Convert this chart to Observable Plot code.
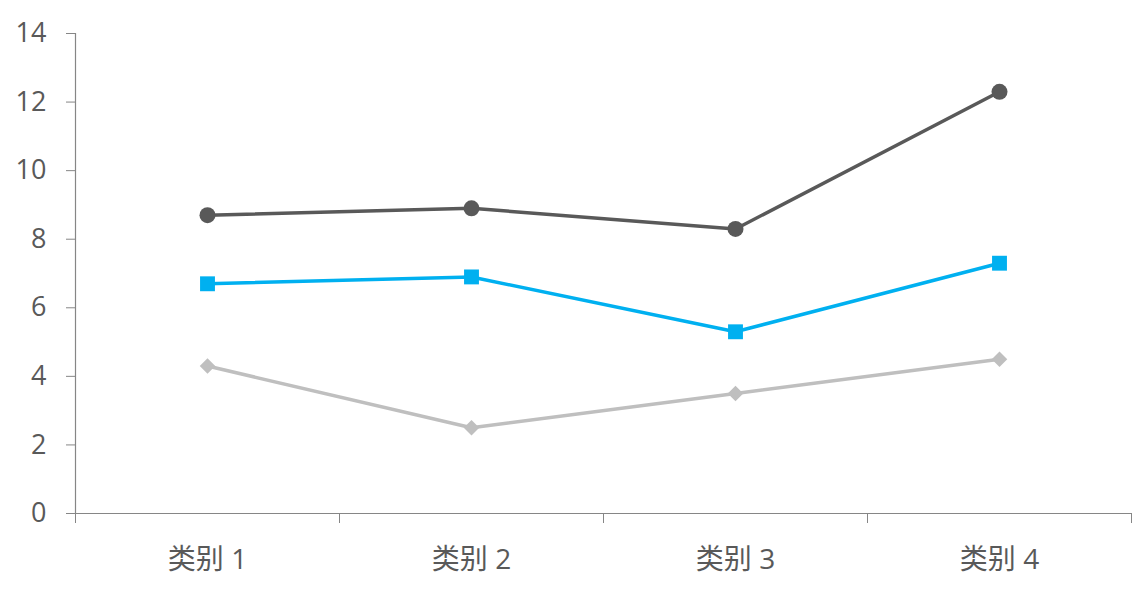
<!DOCTYPE html>
<html>
<head>
<meta charset="utf-8">
<script src="https://cdn.jsdelivr.net/npm/d3@7"></script>
<script src="https://cdn.jsdelivr.net/npm/@observablehq/plot@0.6"></script>
<style>
  html, body { margin: 0; padding: 0; background: #fff; }
  svg { display: block; }
</style>
</head>
<body>
<div id="chart"></div>
<script>
const categories = ["类别 1", "类别 2", "类别 3", "类别 4"];
const series1 = [8.7, 8.9, 8.3, 12.3];   // dark, circles
const series2 = [6.7, 6.9, 5.3, 7.3];    // blue, squares
const series3 = [4.3, 2.5, 3.5, 4.5];    // light gray, diamonds
const yTicks = [0, 2, 4, 6, 8, 10, 12, 14];

const seriesDefs = [
  {name: "系列 1", values: series1, color: "#595959", symbol: "circle", r: 8},
  {name: "系列 2", values: series2, color: "#00B0F0", symbol: "square", r: 8.4},
  {name: "系列 3", values: series3, color: "#BFBFBF", symbol: "diamond2", r: 7}
];
const rows = seriesDefs.flatMap(s => s.values.map((v, i) => ({series: s.name, i: i + 0.5, value: v})));

const axisColor = "#868686";
const textColor = "#595959";
const font = "'Open Sans', 'Noto Sans CJK SC', sans-serif";

const marks = [
  Plot.ruleY([0], {stroke: axisColor, strokeWidth: 1.2}),
  Plot.ruleX([0], {y1: 0, y2: 14, stroke: axisColor, strokeWidth: 1.2}),
  Plot.axisY({ticks: yTicks, label: null, tickSize: 9, tickPadding: 20, stroke: axisColor, strokeOpacity: 1, fill: textColor, fontSize: 27, fontFamily: font}),
  Plot.axisX({ticks: [0, 1, 2, 3, 4], label: null, tickSize: 10, tickFormat: () => "", stroke: axisColor, strokeOpacity: 1}),
  Plot.axisX({ticks: categories.map((c, i) => i + 0.5), label: null, tickSize: 0, tickPadding: 36, tickFormat: d => categories[Math.round(d - 0.5)], fill: textColor, fontSize: 28, fontFamily: font}),
];
for (const s of seriesDefs) {
  const d = rows.filter(r => r.series === s.name);
  marks.push(Plot.line(d, {x: "i", y: "value", stroke: s.color, strokeWidth: 3.5}));
  marks.push(Plot.dot(d, {x: "i", y: "value", fill: s.color, stroke: "none", symbol: s.symbol, r: s.r}));
}

const chart = Plot.plot({
  width: 1139,
  height: 605,
  marginLeft: 75,
  marginRight: 8,
  marginTop: 33,
  marginBottom: 92,
  style: {background: "#fff", color: textColor, fontFamily: font},
  x: {type: "linear", domain: [0, 4], axis: null, label: null},
  y: {domain: [0, 14], axis: null, label: null},
  marks
});
document.getElementById("chart").appendChild(chart);
</script>
</body>
</html>
